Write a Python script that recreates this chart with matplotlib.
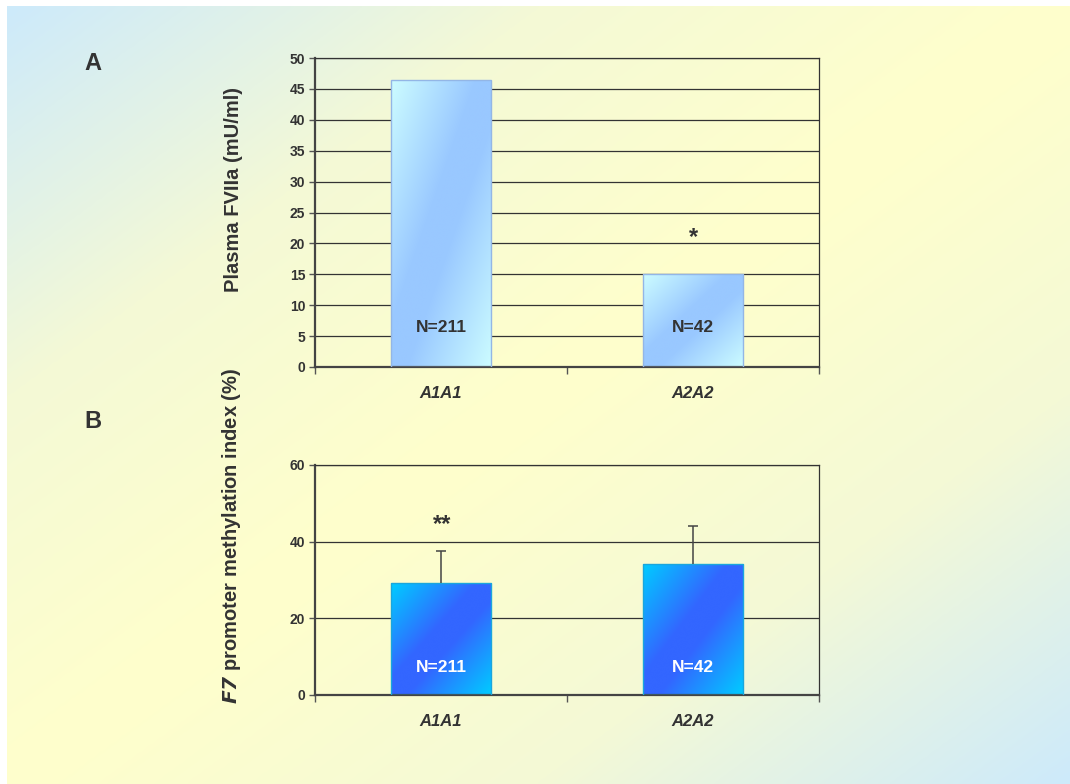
import numpy as np
import matplotlib
matplotlib.use("Agg")
import matplotlib.pyplot as plt
from matplotlib.colors import LinearSegmentedColormap

# --- data ---
genotypes = ["A1A1", "A2A2"]
fviia = [46.4, 15.0]                 # plasma FVIIa (mU/ml)
methylation = [29.1, 34.2]           # F7 promoter methylation index (%)
methylation_err = [8.5, 9.8]
n_labels = ["N=211", "N=42"]
fviia_marks = ["", "*"]
fviia_mark_y = [0, 21.0]
meth_marks = ["**", ""]
meth_mark_y = [44.5, 0]
fviia_ticks = [0, 5, 10, 15, 20, 25, 30, 35, 40, 45, 50]
meth_ticks = [0, 20, 40, 60]

plt.rcParams["font.family"] = ["Liberation Sans", "DejaVu Sans"]
TXT = "#333333"

W, H = 1070, 784
fig = plt.figure(figsize=(W / 100, H / 100), dpi=100)
fig.patch.set_facecolor("white")


def diag_field(nx, ny):
    """0 along the rising diagonal, 1 at top-left / bottom-right corners."""
    u = np.linspace(0, 1, nx)[None, :]
    v = np.linspace(0, 1, ny)[:, None]
    return np.abs(u + v - 1)


# background panel
bg_cmap = LinearSegmentedColormap.from_list("bg", ["#ffffcc", "#f4f9d6", "#cdeafb"])
bg = fig.add_axes([7 / W, 0, 1 - 7 / W, 1 - 6 / H], zorder=-5)
bg.imshow(diag_field(400, 300), cmap=bg_cmap, aspect="auto", extent=(0, 1, 0, 1),
          interpolation="bicubic")
bg.set_axis_off()


def gradient_bars(ax, values, c_edge, c_mid, edgecolor):
    # mid colour held a little before fading out to the corner colour
    cmap = LinearSegmentedColormap.from_list("bar", [(0, c_mid), (0.15, c_mid), (1, c_edge)])
    bars = ax.bar(range(len(values)), values, width=0.4, facecolor="none",
                  edgecolor=edgecolor, linewidth=1.0, zorder=3)
    for b in bars:
        x0, y0 = b.get_x(), b.get_y()
        im = ax.imshow(diag_field(60, 200), cmap=cmap, aspect="auto",
                       extent=(x0, x0 + b.get_width(), y0, y0 + b.get_height()),
                       origin="upper", zorder=2, interpolation="bicubic")
        im.set_clip_path(b)
    return bars


def style_axes(ax, ymax, ticks):
    ax.set_facecolor("none")
    ax.set_xlim(-0.5, 1.5)
    ax.set_ylim(0, ymax)
    ax.set_yticks(ticks)
    ax.set_yticklabels([str(t) for t in ticks], fontsize=10, fontweight="bold", color=TXT)
    ax.yaxis.grid(True, color="#333333", linewidth=0.9)
    ax.set_axisbelow(True)
    ax.tick_params(axis="y", direction="out", length=4, width=1, color="#555555", pad=3)
    ax.set_xticks([0, 1])
    ax.set_xticklabels(genotypes, fontsize=12, fontweight="bold", style="italic", color=TXT)
    ax.tick_params(axis="x", which="major", length=0, pad=14)
    ax.set_xticks([-0.5, 0.5, 1.5], minor=True)
    ax.tick_params(axis="x", which="minor", direction="out", length=5, width=1, color="#555555")
    for side in ["left", "bottom"]:
        ax.spines[side].set_color("#444444")
        ax.spines[side].set_linewidth(1.6)
    for side in ["top", "right"]:
        ax.spines[side].set_color("#333333")
        ax.spines[side].set_linewidth(0.9)


# panel A: plasma FVIIa
axA = fig.add_axes([315 / W, (H - 367) / H, 504 / W, 309 / H])
gradient_bars(axA, fviia, "#ccfcff", "#99c8ff", "#93b6e6")
style_axes(axA, 50, fviia_ticks)
for i, lab in enumerate(n_labels):
    axA.text(i, 6.4, lab, ha="center", va="center", fontsize=12.5,
             fontweight="bold", color=TXT, zorder=5)
    if fviia_marks[i]:
        axA.text(i, fviia_mark_y[i], fviia_marks[i], ha="center", va="center",
                 fontsize=17, fontweight="bold", style="italic", color=TXT)
axA.set_ylabel("Plasma FVIIa (mU/ml)", fontsize=14.5, fontweight="bold", color=TXT)
axA.yaxis.set_label_coords(-0.143, 0.573)

# panel B: F7 promoter methylation, upper error bars only
axB = fig.add_axes([315 / W, (H - 695) / H, 504 / W, 230 / H])
gradient_bars(axB, methylation, "#00ccff", "#3366ff", "#1aa6dd")
x_pos = np.arange(len(methylation))
tops = np.array(methylation) + np.array(methylation_err)
axB.vlines(x_pos, methylation, tops, color="#444444", linewidth=1.1, zorder=4)
axB.plot(x_pos, tops, linestyle="none", marker="_", markersize=7,
         markeredgewidth=1.1, color="#444444", zorder=4)
style_axes(axB, 60, meth_ticks)
for i, lab in enumerate(n_labels):
    axB.text(i, 7.3, lab, ha="center", va="center", fontsize=12.5,
             fontweight="bold", color="white", zorder=5)
    if meth_marks[i]:
        axB.text(i, meth_mark_y[i], meth_marks[i], ha="center", va="center",
                 fontsize=17, fontweight="bold", style="italic", color=TXT)
axB.set_ylabel(r"$\mathbfit{F7}$ promoter methylation index (%)", fontsize=14.5,
               fontweight="bold", color=TXT)
axB.yaxis.set_label_coords(-0.143, 0.69)

# panel letters
fig.text(93 / W, 1 - 63 / H, "A", fontsize=17, fontweight="bold", color=TXT,
         ha="center", va="center")
fig.text(93 / W, 1 - 422 / H, "B", fontsize=17, fontweight="bold", color=TXT,
         ha="center", va="center")

fig.savefig("out.png", dpi=100)
